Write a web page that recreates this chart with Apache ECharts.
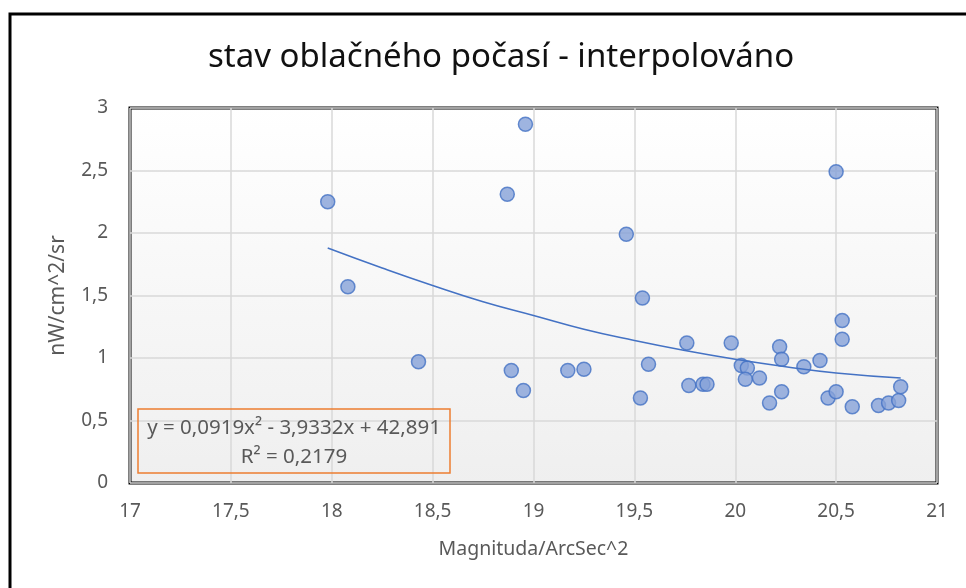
<!DOCTYPE html>
<html>
<head>
<meta charset="utf-8">
<script src="https://cdn.jsdelivr.net/npm/echarts@6/dist/echarts.min.js"></script>
<style>
  html, body { margin: 0; padding: 0; background: #fff; }
  #chart { width: 966px; height: 588px; }
</style>
</head>
<body>
<div id="chart"></div>
<script>
// měření - magnituda vs. jas
var magX = [17.98, 18.08, 18.43, 18.87, 18.89, 18.95, 18.96, 19.17, 19.25, 19.46,
  19.53, 19.54, 19.57, 19.76, 19.77, 19.84, 19.86, 19.98, 20.03, 20.06,
  20.05, 20.12, 20.17, 20.22, 20.23, 20.23, 20.34, 20.42, 20.46, 20.50,
  20.50, 20.53, 20.53, 20.58, 20.71, 20.76, 20.81, 20.82]
var radY = [2.25, 1.57, 0.97, 2.31, 0.90, 0.74, 2.87, 0.90, 0.91, 1.99,
  0.68, 1.48, 0.95, 1.12, 0.78, 0.79, 0.79, 1.12, 0.94, 0.92,
  0.83, 0.84, 0.64, 1.09, 0.99, 0.73, 0.93, 0.98, 0.68, 0.73,
  2.49, 1.30, 1.15, 0.61, 0.62, 0.64, 0.66, 0.77]

// trendline (polynom 2. stupne)
var trendX = [17.98, 18.25, 18.5, 18.75, 19, 19.25, 19.5, 19.75, 20, 20.25, 20.5, 20.82]
var trendY = [1.88, 1.72, 1.58, 1.45, 1.34, 1.23, 1.14, 1.06, 0.99, 0.93, 0.88, 0.84]

var xTicks = [17, 17.5, 18, 18.5, 19, 19.5, 20, 20.5, 21]
var yTicks = [0, 0.5, 1, 1.5, 2, 2.5, 3]

var trendText = ['y = 0,0919x² - 3,9332x + 42,891', 'R² = 0,2179']

var comma = function (v) { return String(v).replace('.', ',') }

var myChart = echarts.init(document.getElementById('chart'))

var option = {
  animation: false,
  backgroundColor: '#fff',
  textStyle: { fontFamily: 'Noto Sans' },
  title: {
    text: 'stav oblačného počasí - interpolováno',
    left: 203,
    top: 36,
    textStyle: { fontFamily: 'Noto Sans', fontSize: 33, fontWeight: 'normal', color: '#111' }
  },
  grid: {
    left: 130, top: 108, right: 29, bottom: 105,
    show: true,
    borderColor: '#000',
    borderWidth: 3,
    backgroundColor: new echarts.graphic.LinearGradient(0, 0, 0, 1, [
      { offset: 0, color: '#ffffff' },
      { offset: 1, color: '#efefef' }
    ])
  },
  xAxis: {
    type: 'value',
    min: xTicks[0],
    max: xTicks[xTicks.length - 1],
    interval: 0.5,
    name: 'Magnituda/ArcSec^2',
    nameLocation: 'middle',
    nameGap: 56,
    nameTextStyle: { fontSize: 19.5, color: '#595959' },
    axisLine: { show: false },
    axisTick: { show: false },
    axisLabel: { fontSize: 19, color: '#595959', margin: 19, formatter: comma },
    splitLine: { lineStyle: { color: '#d9d9d9', width: 1.5 } }
  },
  yAxis: {
    type: 'value',
    min: yTicks[0],
    max: yTicks[yTicks.length - 1],
    interval: 0.5,
    name: 'nW/cm^2/sr',
    nameLocation: 'middle',
    nameGap: 61,
    nameTextStyle: { fontSize: 21, color: '#595959' },
    axisLine: { show: false },
    axisTick: { show: false },
    axisLabel: { fontSize: 19, color: '#595959', margin: 22, formatter: comma },
    splitLine: { lineStyle: { color: '#d9d9d9', width: 1.5 } }
  },
  series: [
    {
      type: 'scatter',
      symbolSize: 14,
      itemStyle: { color: '#86a1d8', borderColor: '#4472c4', borderWidth: 1.5 },
      data: magX.map(function (x, i) { return [x, radY[i]] })
    },
    {
      type: 'line',
      smooth: true,
      symbol: 'none',
      lineStyle: { color: '#4472c4', width: 1.5 },
      data: trendX.map(function (x, i) { return [x, trendY[i]] }),
      z: 3
    }
  ],
  graphic: [
    // vnejsi ramecek
    {
      type: 'rect',
      shape: { x: 10, y: 14, width: 1000, height: 1000 },
      style: { fill: 'none', stroke: '#000', lineWidth: 3 },
      silent: true
    },
    // rovnice trendu
    {
      type: 'rect',
      shape: { x: 138, y: 409, width: 312, height: 64 },
      style: { fill: 'none', stroke: '#ed7d31', lineWidth: 1.5 },
      z: 10
    },
    {
      type: 'text',
      x: 294, y: 428,
      style: { text: trendText[0], fontFamily: 'Noto Sans', fontSize: 20.5, fill: '#595959', align: 'center', verticalAlign: 'middle' },
      z: 10
    },
    {
      type: 'text',
      x: 294, y: 457,
      style: { text: trendText[1], fontFamily: 'Noto Sans', fontSize: 20.5, fill: '#595959', align: 'center', verticalAlign: 'middle' },
      z: 10
    }
  ]
}

myChart.setOption(option)
</script>
</body>
</html>
